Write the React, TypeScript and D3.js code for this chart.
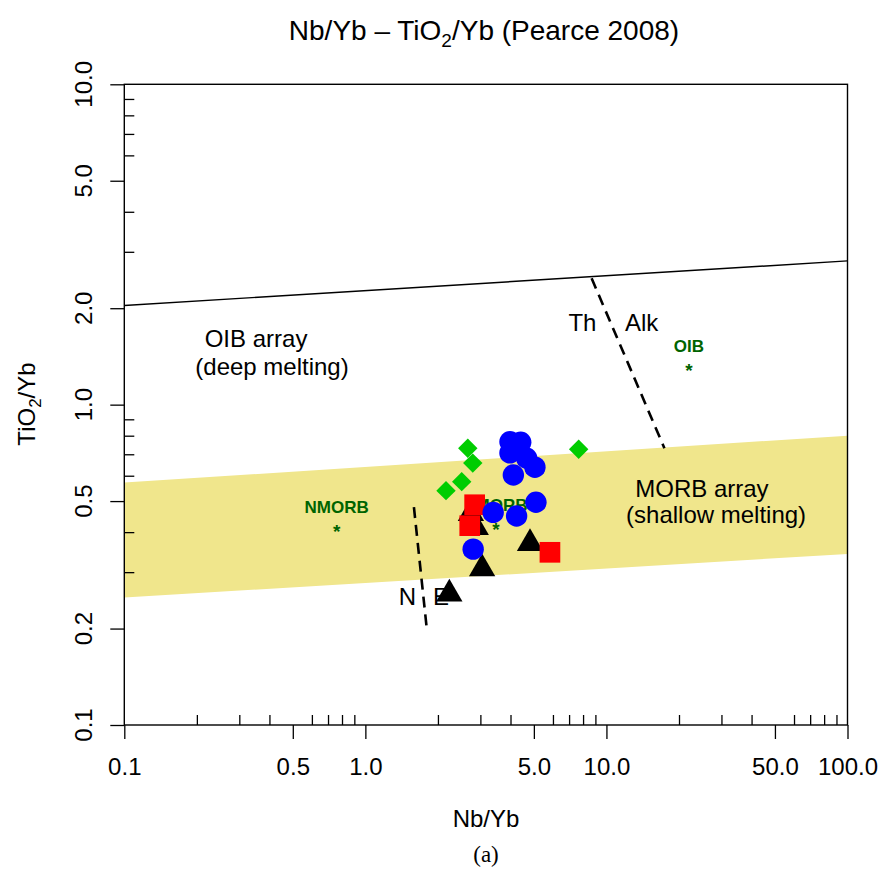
import React, { useEffect, useRef } from 'react';
import * as d3 from 'd3';

const W = 885;
const H = 870;

// Samples (Nb/Yb, TiO2/Yb)
const triNb = [4.82, 3.05, 2.23, 2.74, 2.87];
const triTi = [0.369, 0.3075, 0.2566, 0.458, 0.414];
const sqNb = [2.84, 2.71, 5.83];
const sqTi = [0.487, 0.419, 0.346];
const cirNb = [3.98, 4.41, 3.98, 4.67, 5.05, 4.11, 5.1, 3.39, 4.24, 2.8];
const cirTi = [0.766, 0.763, 0.707, 0.68, 0.638, 0.603, 0.496, 0.461, 0.449, 0.354];
const diaNb = [2.66, 2.79, 2.51, 2.16, 7.67];
const diaTi = [0.731, 0.657, 0.575, 0.539, 0.726];

// Reference compositions
const refNames = ['NMORB', 'EMORB', 'OIB'];
const refNb = [0.76, 3.48, 22];
const refTi = [0.415, 0.42, 1.32];

// Diagram fields
const oibLineNb = [0.1, 100];
const oibLineTi = [2.04, 2.81];
const bandNb = [0.1, 100, 100, 0.1];
const bandTi = [0.571, 0.8, 0.342, 0.25];
const thAlkNb = [8.68, 17.4];
const thAlkTi = [2.48, 0.731];
const nENb = [1.59, 1.8];
const nETi = [0.479, 0.198];

// Field labels
const fieldText = ['OIB array', '(deep melting)', 'MORB array', '(shallow melting)', 'Th', 'Alk', 'N', 'E'];
const fieldNb = [0.352, 0.41, 24.9, 28.5, 7.95, 14.0, 1.495, 2.059];
const fieldTi = [1.514, 1.238, 0.515, 0.427, 1.7, 1.7, 0.237, 0.237];

// Ticks
const xMajor = [0.1, 0.5, 1, 5, 10, 50, 100];
const xLabels = ['0.1', '0.5', '1.0', '5.0', '10.0', '50.0', '100.0'];
const yMajor = [0.1, 0.2, 0.5, 1, 2, 5, 10];
const yLabels = ['0.1', '0.2', '0.5', '1.0', '2.0', '5.0', '10.0'];

const App = () => {
    const svgRef = useRef(null);

    useEffect(() => {
        if (!svgRef.current) return;
        const svg = d3.select(svgRef.current);
        svg.selectAll('*').remove();

        const font = '"Liberation Sans", Arial, sans-serif';
        const x = d3.scaleLog().domain([0.1, 100]).range([124.3, 847.5]);
        const y = d3.scaleLog().domain([0.1, 10]).range([725, 84.3]);
        const isMajor = (list, v) => list.some(m => Math.abs(m - v) / m < 1e-6);

        svg.append('rect').attr('width', W).attr('height', H).attr('fill', '#fff');

        const line = d3.line().x(d => x(d[0])).y(d => y(d[1]));

        // MORB array band
        svg.append('path')
            .attr('d', line(d3.zip(bandNb, bandTi)) + 'Z')
            .attr('fill', '#F0E68C');

        // OIB array upper line
        svg.append('path')
            .attr('d', line(d3.zip(oibLineNb, oibLineTi)))
            .attr('stroke', '#000').attr('stroke-width', 1.4).attr('fill', 'none');

        // Dashed boundaries
        [[thAlkNb, thAlkTi], [nENb, nETi]].forEach(([xs, ys]) => {
            svg.append('path')
                .attr('d', line(d3.zip(xs, ys)))
                .attr('stroke', '#000').attr('stroke-width', 2.6)
                .attr('stroke-dasharray', '11,7').attr('fill', 'none');
        });

        // Axes: major ticks outward, minor inward
        const xMinor = x.ticks().filter(v => !isMajor(xMajor, v));
        const yMinor = y.ticks().filter(v => !isMajor(yMajor, v));

        const gx = svg.append('g').attr('transform', 'translate(0,725)')
            .call(d3.axisBottom(x).tickValues(xMajor).tickSize(14).tickPadding(19)
                .tickFormat((d, i) => xLabels[i]))
            .call(g => g.select('.domain').remove());
        gx.selectAll('line').attr('stroke', '#000').attr('stroke-width', 1.3);
        gx.selectAll('text').attr('fill', '#000')
            .style('font-family', font).style('font-size', '24px');

        svg.append('g').attr('transform', 'translate(0,725)')
            .call(d3.axisBottom(x).tickValues(xMinor).tickSize(-10).tickFormat(() => ''))
            .call(g => g.select('.domain').remove())
            .selectAll('line').attr('stroke', '#000').attr('stroke-width', 1.3);

        const gy = svg.append('g').attr('transform', 'translate(124.3,0)')
            .call(d3.axisLeft(y).tickValues(yMajor).tickSize(14).tickFormat(() => ''))
            .call(g => g.select('.domain').remove());
        gy.selectAll('line').attr('stroke', '#000').attr('stroke-width', 1.3);

        svg.append('g').attr('transform', 'translate(124.3,0)')
            .call(d3.axisLeft(y).tickValues(yMinor).tickSize(-10).tickFormat(() => ''))
            .call(g => g.select('.domain').remove())
            .selectAll('line').attr('stroke', '#000').attr('stroke-width', 1.3);

        svg.append('g').selectAll('text')
            .data(yMajor)
            .join('text')
            .attr('transform', d => `translate(92,${y(d)}) rotate(-90)`)
            .attr('text-anchor', 'middle')
            .style('font-family', font).style('font-size', '24px')
            .text((d, i) => yLabels[i]);

        // Plot frame
        svg.append('rect')
            .attr('x', x(0.1)).attr('y', y(10))
            .attr('width', x(100) - x(0.1)).attr('height', y(0.1) - y(10))
            .attr('fill', 'none').attr('stroke', '#000').attr('stroke-width', 1.4);

        // Field labels
        svg.append('g').selectAll('text')
            .data(fieldText)
            .join('text')
            .attr('x', (d, i) => x(fieldNb[i]))
            .attr('y', (d, i) => y(fieldTi[i]))
            .attr('text-anchor', 'middle')
            .style('font-family', font).style('font-size', '24px')
            .text(d => d);

        // Reference compositions
        refNames.forEach((name, i) => {
            const px = x(refNb[i]);
            const py = y(refTi[i]);
            svg.append('text')
                .attr('x', px).attr('y', py - 14)
                .attr('text-anchor', 'middle').attr('fill', '#006400')
                .style('font-family', font).style('font-size', '17px').style('font-weight', 'bold')
                .text(name);
            svg.append('text')
                .attr('x', px).attr('y', py + 11)
                .attr('text-anchor', 'middle').attr('fill', '#006400')
                .style('font-family', font).style('font-size', '19px').style('font-weight', 'bold')
                .text('*');
        });

        // Samples
        svg.append('g').selectAll('path')
            .data(d3.zip(triNb, triTi))
            .join('path')
            .attr('transform', d => `translate(${x(d[0])},${y(d[1])})`)
            .attr('d', d3.symbol(d3.symbolTriangle, 300))
            .attr('fill', '#000');

        svg.append('g').selectAll('path')
            .data(d3.zip(sqNb, sqTi))
            .join('path')
            .attr('transform', d => `translate(${x(d[0])},${y(d[1])})`)
            .attr('d', d3.symbol(d3.symbolSquare, 428))
            .attr('fill', '#FF0000');

        svg.append('g').selectAll('circle')
            .data(d3.zip(cirNb, cirTi))
            .join('circle')
            .attr('cx', d => x(d[0]))
            .attr('cy', d => y(d[1]))
            .attr('r', 10.7)
            .attr('fill', '#0000FF');

        svg.append('g').selectAll('path')
            .data(d3.zip(diaNb, diaTi))
            .join('path')
            .attr('transform', d => `translate(${x(d[0])},${y(d[1])}) rotate(45)`)
            .attr('d', d3.symbol(d3.symbolSquare, 188))
            .attr('fill', '#00CD00');

        // Titles
        const title = svg.append('text')
            .attr('x', 484).attr('y', 40)
            .attr('text-anchor', 'middle')
            .style('font-family', font).style('font-size', '28px');
        title.append('tspan').text('Nb/Yb – TiO');
        title.append('tspan').attr('dy', 7).style('font-size', '19px').text('2');
        title.append('tspan').attr('dy', -7).text('/Yb (Pearce 2008)');

        svg.append('text')
            .attr('x', 486).attr('y', 827)
            .attr('text-anchor', 'middle')
            .style('font-family', font).style('font-size', '24px')
            .text('Nb/Yb');

        const yTitle = svg.append('text')
            .attr('transform', 'translate(35,404) rotate(-90)')
            .attr('text-anchor', 'middle')
            .style('font-family', font).style('font-size', '24px');
        yTitle.append('tspan').text('TiO');
        yTitle.append('tspan').attr('dy', 6).style('font-size', '17px').text('2');
        yTitle.append('tspan').attr('dy', -6).text('/Yb');

        svg.append('text')
            .attr('x', 486).attr('y', 862)
            .attr('text-anchor', 'middle')
            .style('font-family', '"Liberation Serif", "Times New Roman", serif').style('font-size', '23px')
            .text('(a)');
    }, []);

    return (
        <svg
            ref={svgRef}
            width={W}
            height={H}
            style={{ position: 'absolute', left: 0, top: 0, display: 'block' }}
        />
    );
};

export default App;
